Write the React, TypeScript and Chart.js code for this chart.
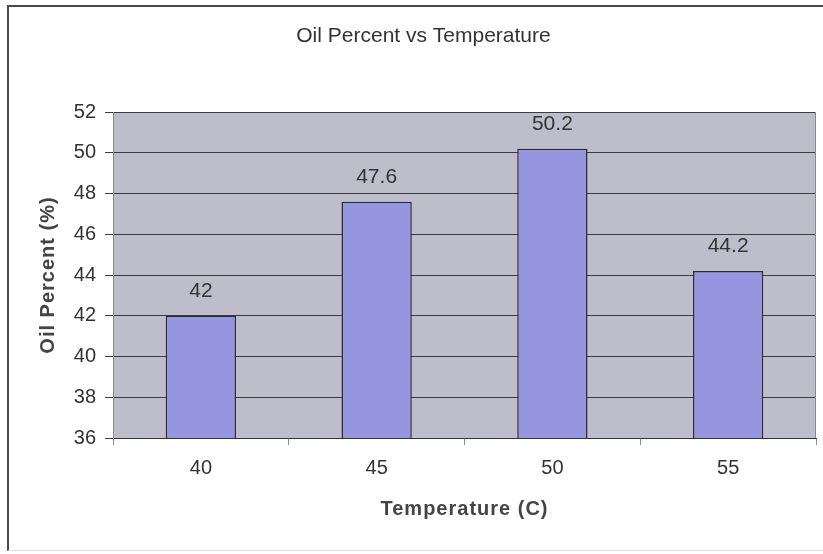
import React, { useEffect, useRef } from "react";
import { Chart, registerables } from "chart.js";

Chart.register(...registerables);

// Oil yield measured at each extraction temperature
const temperatures = ["40", "45", "50", "55"];
const oilPercent = [42, 47.6, 50.2, 44.2];
const yMin = 36;
const yMax = 52;
const yStep = 2;

const chartTitle = "Oil Percent vs Temperature";
const xAxisTitle = "Temperature (C)";
const yAxisTitle = "Oil Percent (%)";

const FONT = "Arial, 'Liberation Sans', Helvetica, sans-serif";
const TEXT = "#333333";
const PLOT_BG = "#bdbdcc";
const BAR_FILL = "#9696e0";
const BAR_EDGE = "#2b2b3a";
const GRID = "#3c3c3c";

// Grey plot-area fill and its right-hand frame line
const plotArea = {
  id: "plotArea",
  beforeDraw(chart: any) {
    const { ctx, chartArea: a } = chart;
    ctx.save();
    ctx.fillStyle = PLOT_BG;
    ctx.fillRect(a.left, a.top, a.right - a.left, a.bottom - a.top);
    ctx.restore();
  },
  afterDraw(chart: any) {
    const { ctx, chartArea: a } = chart;
    ctx.save();
    ctx.strokeStyle = "#8a8a8a";
    ctx.lineWidth = 1;
    ctx.beginPath();
    ctx.moveTo(a.right - 0.5, a.top);
    ctx.lineTo(a.right - 0.5, a.bottom);
    ctx.stroke();
    ctx.restore();
  },
};

// Value printed above each bar
const valueLabels = {
  id: "valueLabels",
  afterDatasetsDraw(chart: any) {
    const { ctx } = chart;
    const meta = chart.getDatasetMeta(0);
    const values = chart.data.datasets[0].data as number[];
    ctx.save();
    ctx.font = `21px ${FONT}`;
    ctx.fillStyle = TEXT;
    ctx.textAlign = "center";
    ctx.textBaseline = "alphabetic";
    meta.data.forEach((bar: any, i: number) => {
      ctx.fillText(String(values[i]), bar.x, bar.y - 19);
    });
    ctx.restore();
  },
};

// Chart title and the two axis titles
const titles = {
  id: "titles",
  afterDraw(chart: any) {
    const { ctx, chartArea: a } = chart;
    ctx.save();
    ctx.fillStyle = TEXT;
    ctx.textAlign = "center";
    ctx.textBaseline = "middle";

    ctx.font = `21px ${FONT}`;
    ctx.fillText(chartTitle, chart.width / 2 + 12, 36);

    ctx.font = `bold 20px ${FONT}`;
    (ctx as any).letterSpacing = "1px";
    ctx.fillStyle = "#444444";
    ctx.fillText(xAxisTitle, (a.left + a.right) / 2, 509);

    ctx.translate(48, (a.top + a.bottom) / 2);
    ctx.rotate(-Math.PI / 2);
    ctx.fillText(yAxisTitle, 0, 0);
    ctx.restore();
  },
};

export default function App() {
  const canvasRef = useRef<HTMLCanvasElement | null>(null);

  useEffect(() => {
    const canvas = canvasRef.current;
    if (!canvas) return;
    const chart = new Chart(canvas, {
      type: "bar",
      data: {
        labels: temperatures,
        datasets: [
          {
            data: oilPercent,
            backgroundColor: BAR_FILL,
            borderColor: BAR_EDGE,
            borderWidth: 1.5,
            barPercentage: 0.4,
            categoryPercentage: 1,
          },
        ],
      },
      options: {
        responsive: false,
        animation: false,
        devicePixelRatio: 1,
        layout: { padding: { top: 112, right: 7, left: 0, bottom: 0 } },
        plugins: {
          legend: { display: false },
          title: { display: false },
          tooltip: { enabled: false },
        },
        scales: {
          x: {
            afterFit: (scale: any) => {
              scale.height = 116;
            },
            grid: {
              display: true,
              drawOnChartArea: false,
              offset: true,
              tickLength: 7,
              color: "#8a8a8a",
            },
            border: { display: true, color: "#333333", width: 1 },
            ticks: {
              padding: 11,
              color: TEXT,
              font: { family: FONT, size: 20 },
            },
          },
          y: {
            min: yMin,
            max: yMax,
            afterFit: (scale: any) => {
              scale.width = 113;
            },
            grid: {
              color: GRID,
              lineWidth: 1,
              tickLength: 8,
            },
            border: { display: true, color: "#8a8a8a", width: 1 },
            ticks: {
              stepSize: yStep,
              padding: 9,
              color: TEXT,
              font: { family: FONT, size: 20 },
            },
          },
        },
      },
      plugins: [plotArea, valueLabels, titles],
    });
    return () => chart.destroy();
  }, []);

  return (
    <div
      style={{
        position: "absolute",
        left: 0,
        top: 0,
        width: 823,
        height: 554,
        background: "#ffffff",
        overflow: "hidden",
      }}
    >
      <div
        style={{
          position: "absolute",
          left: 7,
          top: 5,
          width: 816,
          height: 543,
          borderLeft: "2px solid #4a4a4a",
          borderTop: "2px solid #4a4a4a",
          borderBottom: "1px solid #e2e2e2",
        }}
      />
      <canvas
        ref={canvasRef}
        width={823}
        height={554}
        style={{ position: "absolute", left: 0, top: 0 }}
      />
    </div>
  );
}
